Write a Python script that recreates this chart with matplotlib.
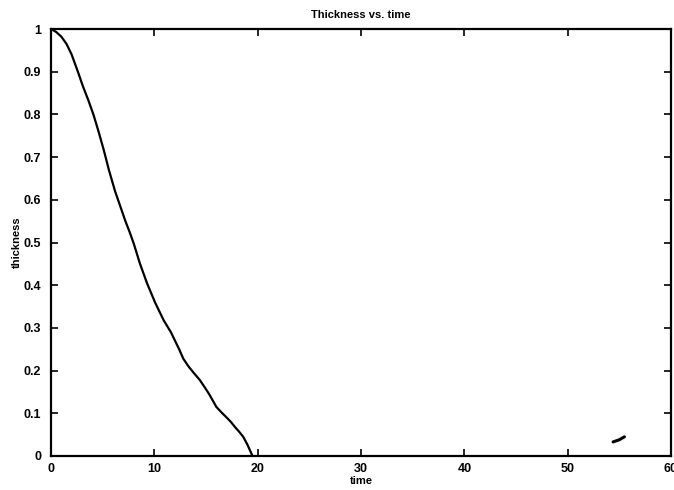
import matplotlib
matplotlib.use("Agg")
import matplotlib.pyplot as plt

plt.rcParams['font.family'] = ['Liberation Sans', 'DejaVu Sans']
plt.rcParams['font.weight'] = 'bold'

# thickness of the layer over time
time = [0, 0.5, 1.0, 1.5, 2.0, 2.6, 3.1, 3.6, 4.1, 4.6, 5.1, 5.6, 6.2, 6.7,
        7.2, 7.6, 8.0, 8.6, 9.3, 10.1, 10.9, 11.6, 12.0, 12.4, 12.8, 13.3,
        13.8, 14.4, 14.9, 15.3, 15.7, 16.0, 16.5, 17.0, 17.4, 17.8, 18.2,
        18.6, 19.0, 19.5]
thickness = [1.0, 0.993, 0.982, 0.965, 0.94, 0.9, 0.865, 0.834, 0.8, 0.76,
             0.717, 0.67, 0.62, 0.585, 0.55, 0.525, 0.498, 0.451, 0.404,
             0.358, 0.318, 0.29, 0.27, 0.25, 0.228, 0.21, 0.195, 0.178, 0.16,
             0.145, 0.128, 0.115, 0.102, 0.09, 0.08, 0.068, 0.057, 0.045,
             0.027, 0.0]

# stray short segment later on
time2 = [54.4, 55.0, 55.5]
thickness2 = [0.033, 0.038, 0.045]

xticks = [0, 10, 20, 30, 40, 50, 60]
yticks = [0, 0.1, 0.2, 0.3, 0.4, 0.5, 0.6, 0.7, 0.8, 0.9, 1]
ytick_labels = ['0', '0.1', '0.2', '0.3', '0.4', '0.5', '0.6', '0.7', '0.8', '0.9', '1']

fig = plt.figure(figsize=(6.74, 4.90), dpi=100)
ax = fig.add_axes([0.0757, 0.0694, 0.9198, 0.8714])

ax.plot(time, thickness, color='black', linewidth=1.6,
        solid_joinstyle='round')
ax.plot(time2, thickness2, color='black', linewidth=2.2, solid_capstyle='round')

ax.set_xlim(0, 60)
ax.set_ylim(0, 1)
ax.set_xticks(xticks)
ax.set_yticks(yticks)
ax.set_yticklabels(ytick_labels)

ax.tick_params(direction='in', length=5, width=1.2, labelsize=9,
               top=True, right=True, colors='black')
ax.tick_params(axis='y', pad=7)
ax.tick_params(axis='x', pad=5)
for s in ax.spines.values():
    s.set_linewidth(1.6)

ax.set_title('Thickness vs. time', fontsize=8, fontweight='bold', pad=8)
ax.set_xlabel('time', fontsize=8, fontweight='bold', labelpad=1)
ax.set_ylabel('thickness', fontsize=8, fontweight='bold', labelpad=1)

fig.savefig('out.png', dpi=100)
